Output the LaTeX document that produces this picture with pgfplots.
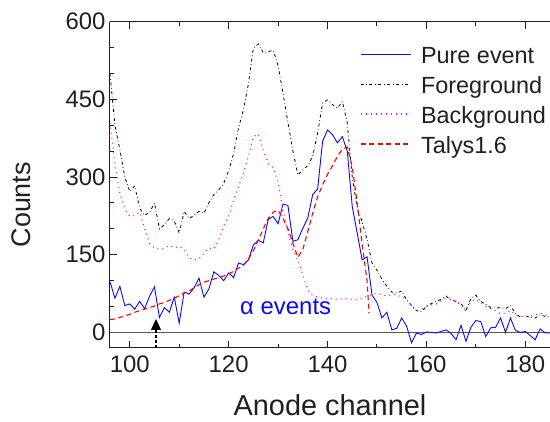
\documentclass[border=0pt]{standalone}
\usepackage{pgfplots}
\pgfplotsset{compat=1.18}
\usepackage{fontspec}
\setmainfont{Liberation Sans}
\usetikzlibrary{arrows.meta}
\definecolor{pblue}{RGB}{10,10,245}
\definecolor{pmag}{RGB}{255,0,255}
\definecolor{pred}{RGB}{255,0,0}
\definecolor{txt}{RGB}{35,31,32}

\pgfplotstableread{
x y
96 98
97 66
98 89
99 52
100 55
101 45
102 60
103 46
104 70
105 88
106 29
107 48
108 39
109 68
110 18
111 78
112 74
113 86
114 105
115 68
116 84
117 117
118 110
119 100
120 115
121 106
122 134
123 131
124 140
125 169
126 178
127 173
128 218
129 224
130 210
131 248
132 245
133 176
134 179
135 201
136 221
137 266
138 277
139 369
140 391
141 382
142 366
143 378
144 350
145 243
146 192
147 140
148 146
149 72
150 58
151 28
152 39
153 5
154 8
155 28
156 12
157 -20
158 -1
159 -4
160 1
161 0
162 -1
163 2
164 5
165 -2
166 -14
167 14
168 -17
169 10
170 23
171 21
172 -8
173 9
174 10
175 28
176 0
177 28
178 4
179 0
180 2
181 -6
182 -14
183 7
184 -1
185 -1
}\pure

\pgfplotstableread{
x y
96 500
97 400
98 353
99 300
100 272
101 283
102 240
103 226
104 232
105 250
106 200
107 208
108 220
109 215
110 192
111 234
112 220
113 226
114 234
115 230
116 250
117 266
118 275
119 288
120 312
121 345
122 395
123 430
124 480
125 549
126 557
127 540
128 542
129 545
130 515
131 462
132 405
133 350
134 304
135 314
136 322
137 340
138 385
139 443
140 449
141 440
142 433
143 446
144 404
145 300
146 240
147 214
148 180
149 134
150 120
151 103
152 89
153 78
154 76
155 80
156 63
157 52
158 42
159 40
160 50
161 56
162 60
163 64
164 70
165 62
166 60
167 56
168 42
169 66
170 72
171 60
172 54
173 48
174 47
175 48
176 46
177 52
178 36
179 30
180 32
181 29
182 28
183 34
184 31
185 30
}\fore

\pgfplotstableread{
x y
96 405
97 325
98 269
99 238
100 224
101 226
102 232
103 200
104 172
105 163
106 161
107 162
108 168
109 164
110 166
111 160
112 144
113 140
114 142
115 153
116 163
117 161
118 179
119 205
120 224
121 256
122 282
123 308
124 340
125 378
126 383
127 352
128 326
129 318
130 290
131 235
132 192
133 160
134 140
135 111
136 82
137 71
138 68
139 66
140 66
141 65
142 64
143 65
144 65
145 64
146 63
147 66
148 70
149 74
150 75
151 73
152 70
153 74
154 72
155 68
156 65
157 50
158 42
159 45
160 50
161 53
162 55
163 62
164 66
165 66
166 60
167 53
168 41
169 60
170 64
171 57
172 50
173 46
174 42
175 36
176 37
177 42
178 34
179 31
180 31
181 31
182 34
183 37
184 34
185 31
}\back

\pgfplotstableread{
x y
96 25
97 26
98 29
99 32
100 35
101 39
102 42
103 45
104 48
105 51
106 55
107 58
108 62
109 66
110 71
111 76
112 80
113 86
114 92
115 97
116 100
117 103
118 106
119 109
120 113
121 118
122 124
123 130
124 142
125 158
126 178
127 200
128 220
129 232
130 236
131 220
132 200
133 172
134 145
135 160
136 195
137 230
138 262
139 285
140 305
141 322
142 340
143 354
144 358
145 320
146 250
147 170
148 100
148.4 37
}\talys

\begin{document}
\begin{tikzpicture}
\begin{axis}[
  scale only axis,
  width=440bp, height=326.3bp,
  xmin=96, xmax=185, ymin=-30, ymax=600,
  xtick={100,120,140,160,180},
  minor x tick num=1,
  ytick={0,150,300,450,600},
  minor y tick num=2,
  tick align=inside,
  axis y line*=left,
  axis line style={color=txt, line width=1bp},
  every tick/.style={color=txt, line width=1bp},
  major tick length=7bp, minor tick length=4bp,
  /pgf/number format/assume math mode=true,
  tick label style={font=\fontsize{24}{28}\selectfont, color=txt},
  xticklabel style={yshift=-4bp},
  yticklabel style={xshift=-1bp},
  xlabel={Anode channel},
  ylabel={Counts},
  xlabel style={font=\fontsize{29}{34}\selectfont, color=txt, at={(axis description cs:0.5,-0.176)}, anchor=center},
  ylabel style={font=\fontsize{27}{32}\selectfont, color=txt, at={(axis description cs:-0.201,0.439)}, anchor=center, rotate=0},
  legend style={draw=none, fill=none, at={(axis cs:146.56,553)}, anchor=north west,
    inner sep=0pt, outer sep=0pt, row sep=8bp, column sep=10bp,
    font=\fontsize{23.5}{28}\selectfont, text=txt,
    nodes={inner sep=0pt, text height=17bp, text depth=5bp},
    cells={anchor=base west}},
  legend image code/.code={\path[draw=none,fill=none] (0bp,-5bp) rectangle (50bp,17bp); \draw[#1] (0bp,9bp) -- (50bp,9bp);},
]
\addplot[forget plot, color=black!65, line width=1.2bp] coordinates {(96,0) (185,0)};
\addplot[pblue, line width=0.9bp] table[x=x,y=y] {\pure};
\addlegendentry{Pure event}
\addplot[black, line width=0.8bp, dash pattern=on 3bp off 2.6bp on 0.7bp off 2.6bp] table[x=x,y=y] {\fore};
\addlegendentry{Foreground}
\addplot[pmag, line width=1.1bp, dash pattern=on 1bp off 4bp] table[x=x,y=y] {\back};
\addlegendentry{Background}
\addplot[pred, line width=1.1bp, dash pattern=on 5bp off 3.5bp] table[x=x,y=y] {\talys};
\addlegendentry{Talys1.6}
\draw[black, line width=1.1bp, dash pattern=on 3bp off 2bp, -{Triangle[width=10bp,length=11bp]}] (axis cs:105.3,-30) -- (axis cs:105.3,26);
\node[pblue, font=\fontsize{24}{28}\selectfont, anchor=base west, inner sep=0pt] at (axis cs:122.3,34) {α events};
\end{axis}
\pgfresetboundingbox
\path[use as bounding box] ([xshift=-110bp,yshift=-74bp]current axis.south west) rectangle ([yshift=21.7bp]current axis.north east);
\end{tikzpicture}
\end{document}
